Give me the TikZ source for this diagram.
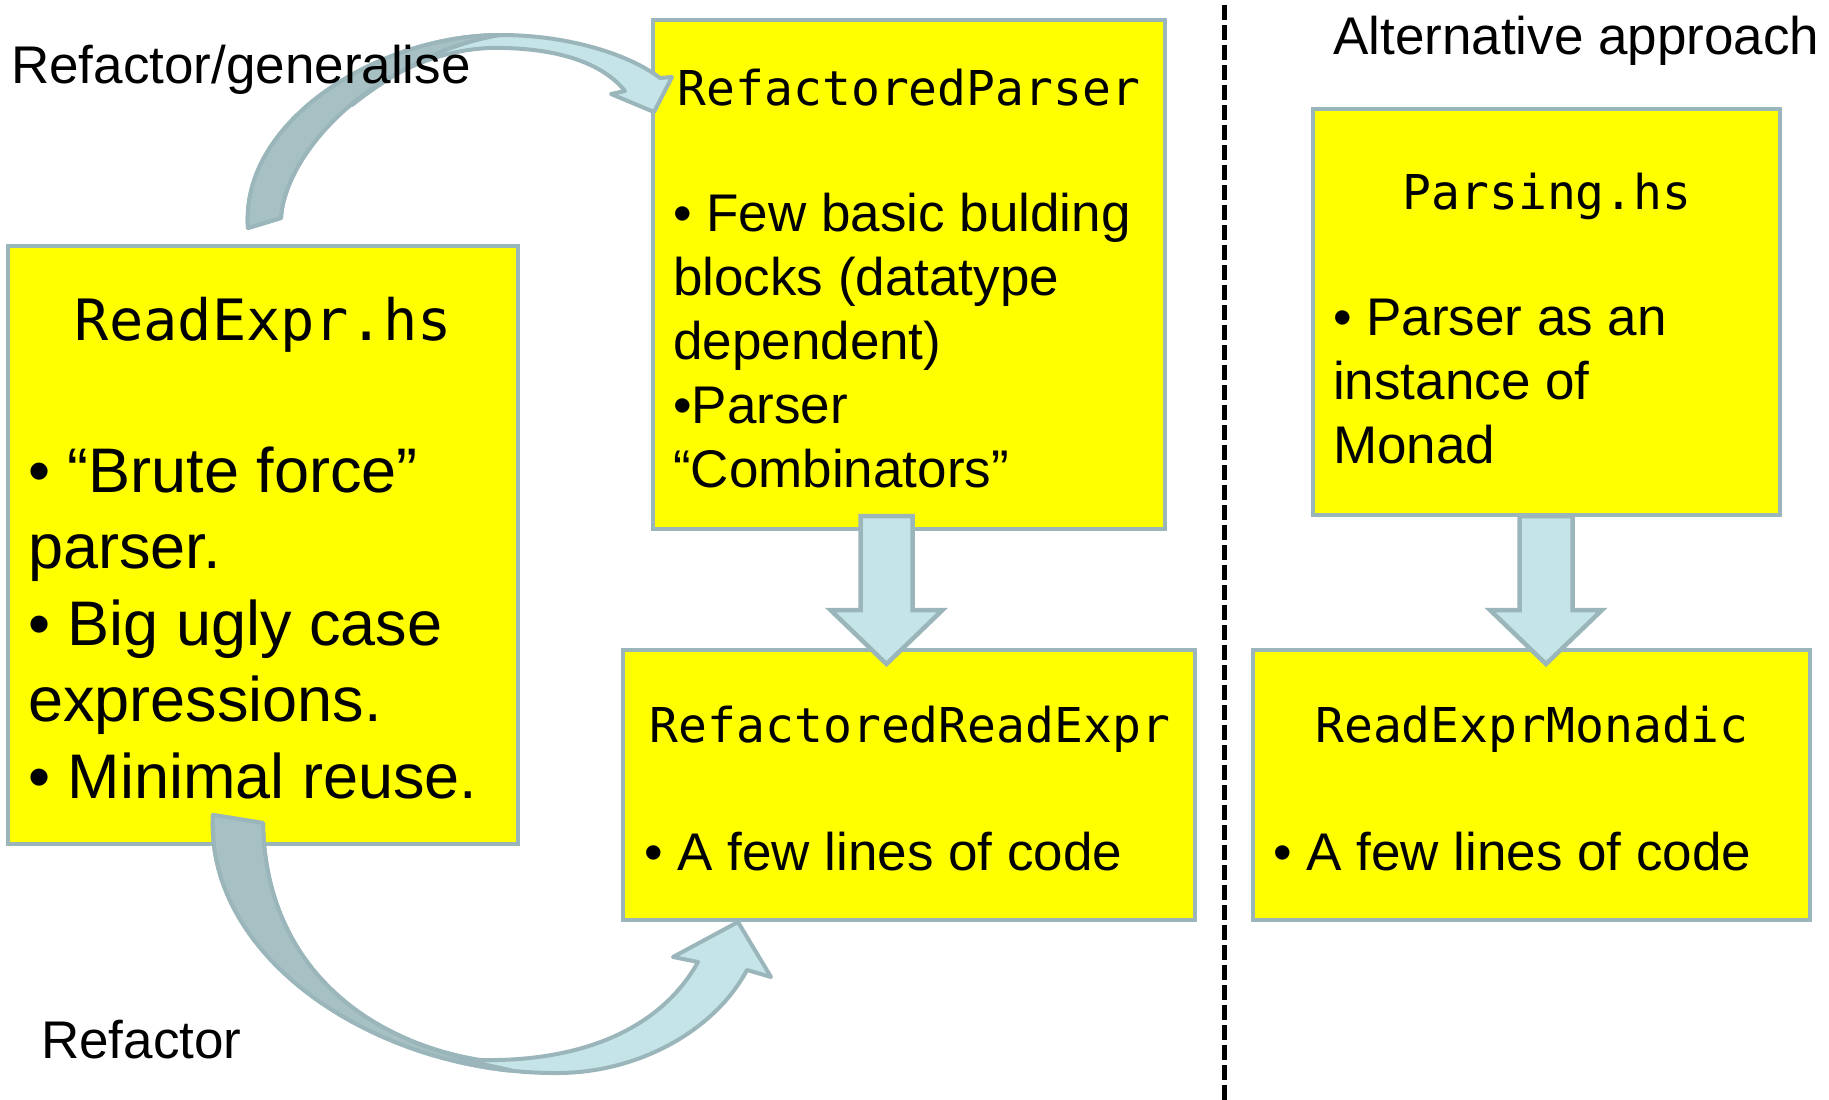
\documentclass[tikz,border=0pt]{standalone}
\usepackage{fontspec}
\setmainfont{Liberation Sans}
\newfontfamily\codefont{DejaVu Sans Mono}
\definecolor{boxyellow}{RGB}{255,255,0}
\definecolor{edgec}{RGB}{155,182,187}
\definecolor{arrlight}{RGB}{197,228,231}
\definecolor{arrdark}{RGB}{167,192,196}
\tikzset{
  box/.style={draw=edgec, line width=4.5pt, fill=boxyellow, inner sep=0pt, rectangle},
  txt/.style={anchor=base west, inner sep=0pt, font=\fontsize{53}{64}\selectfont},
  bigtxt/.style={anchor=base west, inner sep=0pt, font=\fontsize{63}{76}\selectfont},
  codehead/.style={anchor=base, inner sep=0pt, font=\codefont\fontsize{48}{58}\selectfont},
  bigcodehead/.style={anchor=base, inner sep=0pt, font=\codefont\fontsize{57}{68}\selectfont},
  blockarrow/.style={fill=arrlight, draw=edgec, line width=4.5pt, line join=miter},
  curvelight/.style={fill=arrlight, draw=edgec, line width=4pt, line join=round},
  curvedark/.style={fill=arrdark, draw=edgec, line width=4pt, line join=round},
  foldline/.style={draw=edgec, line width=4pt, line cap=round},
  divider/.style={draw=black, line width=5pt, dash pattern=on 15pt off 5pt},
}
\newcommand\myUpperArrow{(248,228) .. controls (240,120) and (380,35) .. (500,35)
  .. controls (570,35) and (630,55) .. (660,78)
  -- (672,77) -- (654,112) -- (611,94) -- (625,91)
  .. controls (600,60) and (550,47) .. (490,48)
  .. controls (380,52) and (285,150) .. (281,218) -- cycle}
\newcommand\myLowerArrow{(213,815) .. controls (205,960) and (380,1075) .. (560,1073)
  .. controls (640,1072) and (715,1030) .. (747,970)
  -- (771,977) -- (738,922) -- (673,957) -- (698,962)
  .. controls (660,1030) and (580,1062) .. (480,1060)
  .. controls (360,1040) and (265,960) .. (263,823) -- cycle}
\begin{document}
\begin{tikzpicture}[x=1pt,y=-1pt]
\useasboundingbox (0,0) rectangle (1829,1100);

% boxes
\node[box, minimum width=510pt, minimum height=598pt] (readexpr) at (263,545) {};
\node[box, minimum width=512pt, minimum height=509pt] (rparser) at (909,274.5) {};
\node[box, minimum width=572pt, minimum height=270pt] (rreadexpr) at (909,785) {};
\node[box, minimum width=467pt, minimum height=406pt] (parsing) at (1546.5,312) {};
\node[box, minimum width=557pt, minimum height=270pt] (monadic) at (1531.5,785) {};

% divider
\draw[divider] (1224,5) -- (1224,1100);

% straight block arrows
\path[blockarrow] (860.5,516) -- (912.5,516) -- (912.5,610) -- (942.5,610) -- (886.5,664)
  -- (830.5,610) -- (860.5,610) -- cycle;
\path[blockarrow] (1519.5,516) -- (1572.5,516) -- (1572.5,610) -- (1602,610) -- (1546,664)
  -- (1490,610) -- (1519.5,610) -- cycle;

% upper curved arrow (Refactor/generalise)
\path[curvelight] \myUpperArrow;
\begin{scope}
  \clip (150,0) -- (500,0) -- (500,35) .. controls (440,45) and (390,75) .. (352,105)
    -- (352,280) -- (150,280) -- cycle;
  \path[curvedark] \myUpperArrow;
\end{scope}
\draw[foldline] (500,35) .. controls (440,45) and (390,75) .. (352,105);

% lower curved arrow (Refactor)
\path[curvelight] \myLowerArrow;
\begin{scope}
  \clip (150,780) -- (150,1100) -- (510,1100) -- (510,1070)
    .. controls (470,1062) and (440,1052) .. (411,1041) -- (411,780) -- cycle;
  \path[curvedark] \myLowerArrow;
\end{scope}
\draw[foldline] (510,1070) .. controls (470,1062) and (440,1052) .. (411,1041);

% free labels
\node[txt] (lgen) at (11,83) {Refactor/generalise};
\node[txt] (lref) at (41,1058) {Refactor};
\node[txt] (lalt) at (1333,54) {Alternative approach};

% ReadExpr.hs
\node[bigcodehead] (h1) at (263.5,340) {ReadExpr.hs};
\node[bigtxt] (a1) at (28,492) {• “Brute force”};
\node[bigtxt] (a2) at (28,568.5) {parser.};
\node[bigtxt] (a3) at (28,645) {• Big ugly case};
\node[bigtxt] (a4) at (28,721.5) {expressions.};
\node[bigtxt] (a5) at (28,798) {• Minimal reuse.};

% RefactoredParser
\node[codehead] (h2) at (909,105) {RefactoredParser};
\node[txt] (b1) at (673,231.5) {• Few basic bulding};
\node[txt] (b2) at (673,295.5) {blocks (datatype};
\node[txt] (b3) at (673,359.5) {dependent)};
\node[txt] (b4) at (673,423.5) {•Parser};
\node[txt] (b5) at (673,487.5) {“Combinators”};

% RefactoredReadExpr
\node[codehead] (h3) at (910,742) {RefactoredReadExpr};
\node[txt] (c1) at (644,870) {• A few lines of code};

% Parsing.hs
\node[codehead] (h4) at (1547,209) {Parsing.hs};
\node[txt] (d1) at (1333,335) {• Parser as an};
\node[txt] (d2) at (1333,399) {instance of};
\node[txt] (d3) at (1333,463) {Monad};

% ReadExprMonadic
\node[codehead] (h5) at (1532,742) {ReadExprMonadic};
\node[txt] (e1) at (1273,870) {• A few lines of code};
\end{tikzpicture}
\end{document}
